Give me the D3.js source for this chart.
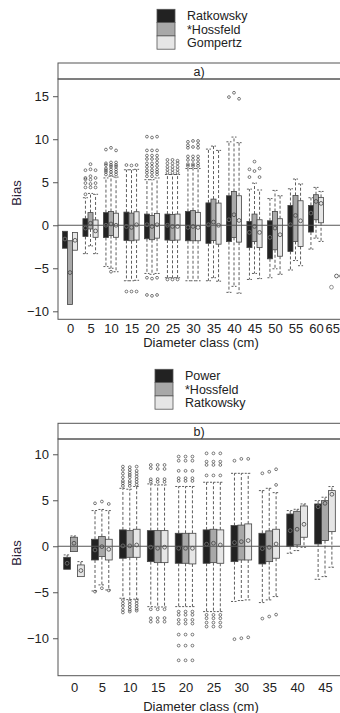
<!DOCTYPE html>
<html>
<head>
<meta charset="utf-8">
<script src="https://cdn.jsdelivr.net/npm/d3@7"></script>
<style>
  body { margin: 0; background: #fff; }
  svg { font-family: "Liberation Sans", Arial, sans-serif; }
</style>
</head>
<body>
<svg id="chart" width="340" height="713"></svg>
<script>
// ---- panel a data: [lowWhisker, q1, mid, q3, highWhisker] per diameter class
const classesA = ["0", "5", "10", "15", "20", "25", "30", "35", "40", "45", "50", "55", "60", "65"];
const seriesA = ["Ratkowsky", "*Hossfeld", "Gompertz"];
const ticksA = [-10, -5, 0, 5, 10, 15];

const ratkowskyA = [
  [-2.67, -2.67, -1.6, -0.7, -0.7], [-3.3, -1.3, -0.33, 0.76, 3.2], [-4.8, -1.43, 0.0, 1.47, 5.5],
  [-6.45, -1.76, -0.14, 1.53, 6.45], [-5.6, -1.57, 0.06, 1.3, 5.3], [-6.1, -1.72, 0.0, 1.3, 5.9],
  [-6.45, -1.8, -0.25, 1.6, 6.6], [-6.45, -2.1, 0.06, 2.6, 8.85], [-7.8, -1.9, 0.64, 3.43, 9.7],
  [-6.3, -2.6, -0.83, 0.45, 4.2], [-6.1, -3.9, -1.41, 0.52, 3.1], [-5.2, -3.04, 0.06, 2.3, 4.24],
  [-2.77, -0.79, 1.41, 2.3, 3.2], [-7.2, -7.2, -7.2, -7.2, -7.2]
];
const hossfeldA = [
  [-9.2, -9.2, -5.5, -1.8, -1.8], [-2.4, -0.43, 0.23, 1.47, 3.7], [-5.0, -1.2, 0.15, 1.6, 5.7],
  [-6.45, -1.8, -0.25, 1.41, 6.45], [-5.7, -1.68, -0.14, 1.14, 5.3], [-6.1, -1.75, -0.14, 1.25, 5.9],
  [-6.45, -1.8, -0.14, 1.7, 6.6], [-6.1, -1.76, 0.37, 3.04, 9.2], [-7.1, -1.41, 1.22, 3.93, 10.25],
  [-5.6, -1.88, -0.14, 1.3, 4.9], [-5.06, -2.85, -0.33, 1.6, 4.05], [-4.1, -1.88, 1.14, 3.47, 5.37],
  [-1.5, 0.64, 2.77, 3.55, 4.4], [-5.9, -5.9, -5.9, -5.9, -5.9]
];
const gompertzA = [
  [-2.9, -2.9, -1.75, -0.85, -0.85], [-3.3, -1.4, -0.66, 0.62, 3.6], [-5.4, -1.4, 0.0, 1.4, 5.6],
  [-6.4, -1.72, 0.06, 1.57, 6.5], [-5.6, -1.5, 0.06, 1.38, 5.5], [-6.1, -1.72, -0.14, 1.3, 5.9],
  [-6.45, -1.8, -0.25, 1.5, 6.6], [-6.5, -2.2, 0.0, 2.58, 8.7], [-7.9, -1.96, 0.56, 3.43, 9.6],
  [-6.2, -2.6, -0.83, 0.64, 4.1], [-5.7, -3.6, -1.1, 0.76, 3.43], [-4.7, -2.46, 0.52, 2.85, 4.8],
  [-1.88, 0.29, 2.54, 3.24, 3.93], [-5.9, -5.9, -5.9, -5.9, -5.9]
];
const ratkowskyOutA = [
  [], [3.6, 4.4, 4.9, 5.35, 5.5, 6.4], [5.9, 6.2, 6.4, 6.6, 7.0, 7.2, 8.8], [7.0, -7.7],
  [5.7, 6.1, 6.4, 6.8, 7.2, 7.7, 8.1, 8.7, 10.3, -6.1, -8.1], [6.1, 6.45, 6.8, 7.2, 7.6, -6.3],
  [6.9, 7.1, 7.6, 8.0, 9.0, 9.3, 9.7], [], [14.9], [5.6, 6.5], [], [], [], []
];
const hossfeldOutA = [
  [], [4.4, 4.8, 5.3, 5.7, 6.5, 7.1], [5.9, 6.2, 6.5, 6.8, 7.0, 7.3, 9.0, -5.4], [6.95, -7.7],
  [5.7, 6.1, 6.4, 6.8, 7.2, 7.7, 8.1, 8.7, 10.2, -6.2, -8.2], [6.1, 6.45, 6.8, 7.2, 7.6, -6.3],
  [6.9, 7.1, 7.6, 8.0, 9.1, 9.8], [], [15.4], [6.3, 7.4], [], [], [], []
];
const gompertzOutA = [
  [], [4.4, 4.9, 5.5, 6.4], [5.9, 6.2, 6.5, 6.8, 7.0, 7.3, 8.7], [7.0, -7.7],
  [5.9, 6.2, 6.5, 6.9, 7.3, 7.7, 8.1, 8.7, 10.3, -6.1, -8.1], [6.1, 6.45, 6.8, 7.2, 7.5, -6.3],
  [6.9, 7.2, 7.6, 8.0, 9.0, 9.4, 9.8], [], [14.7], [5.6, 6.6], [], [], [], []
];

// ---- panel b data
const classesB = ["0", "5", "10", "15", "20", "25", "30", "35", "40", "45"];
const seriesB = ["Power", "*Hossfeld", "Ratkowsky"];
const ticksB = [-10, -5, 0, 5, 10];

const powerB = [
  [-2.5, -2.5, -1.85, -1.2, -0.94], [-4.86, -1.49, -0.4, 0.76, 3.88], [-5.65, -1.3, 0.04, 1.78, 6.3],
  [-6.56, -1.67, -0.1, 1.7, 6.78], [-6.56, -1.85, -0.22, 1.41, 6.5], [-7.1, -1.85, 0.22, 1.78, 6.96],
  [-6.0, -1.67, 0.4, 2.25, 7.93], [-6.12, -1.92, -0.25, 1.41, 6.05], [-0.76, -0.04, 1.7, 3.51, 3.88],
  [-3.59, 0.25, 4.3, 4.6, 4.96]
];
const hossfeldB = [
  [-0.58, -0.58, 0.33, 0.98, 1.12], [-4.2, -1.12, -0.04, 1.05, 4.0], [-5.8, -1.2, 0.04, 1.7, 6.2],
  [-6.6, -1.78, -0.22, 1.7, 6.67], [-6.56, -1.85, -0.22, 1.41, 6.5], [-7.1, -1.78, 0.33, 1.85, 6.96],
  [-5.9, -1.49, 0.5, 2.3, 7.93], [-5.83, -1.67, -0.11, 1.67, 6.3], [-0.47, 0.14, 1.85, 3.8, 4.02],
  [-3.3, 0.62, 4.67, 4.96, 5.33]
];
const ratkowskyB = [
  [-3.3, -3.3, -2.64, -2.03, -1.67], [-4.75, -1.49, -0.33, 0.76, 3.88], [-5.75, -1.2, 0.14, 1.85, 6.5],
  [-6.6, -1.78, -0.1, 1.7, 6.67], [-6.56, -1.92, -0.22, 1.41, 6.5], [-7.1, -1.85, 0.14, 1.78, 6.96],
  [-5.83, -1.49, 0.62, 2.43, 7.93], [-5.47, -1.3, 0.25, 1.85, 5.83], [-0.11, 0.98, 2.39, 4.38, 4.6],
  [-2.28, 1.59, 5.65, 6.05, 6.49]
];
const powerOutB = [
  [], [4.67, -4.93], [6.56, 6.85, 7.1, 7.5, 7.9, 8.3, 8.66, -5.85, -6.2, -6.5, -6.9, -7.2],
  [7.03, 7.28, 8.48, 8.84, -6.85, -7.83, -8.2],
  [7.1, 7.4, 8.2, 9.3, 9.75, -7.1, -7.45, -8.0, -8.4, -9.6, -10.8, -12.4],
  [7.7, 8.84, 9.2, 10.1, -7.46, -7.83, -8.3, -8.73], [9.3, -10.1], [7.93, -7.86], [], []
];
const hossfeldOutB = [
  [], [4.86, -4.56], [6.56, 6.85, 7.1, 7.5, 7.75, 8.0, 8.3, 8.6, -6.0, -6.3, -6.6, -6.9, -7.1],
  [7.0, 7.3, 8.4, 8.84, -6.85, -7.8, -8.2],
  [7.1, 7.4, 8.2, 9.3, 9.75, -7.1, -7.45, -8.0, -8.4, -9.6, -10.8, -12.4],
  [7.7, 8.84, 9.2, 10.1, -7.46, -7.83, -8.3, -8.73], [9.5, -10.0], [8.1, -7.64], [], []
];
const ratkowskyOutB = [
  [], [4.6, -4.8], [6.7, 7.0, 7.3, 7.6, 7.9, 8.2, 8.66, -5.9, -6.2, -6.5, -6.8, -7.0],
  [7.0, 7.3, 8.4, 8.84, -6.85, -7.8, -8.2],
  [7.1, 7.4, 8.2, 9.3, 9.75, -7.1, -7.45, -8.0, -8.4, -9.6, -10.8, -12.4],
  [7.7, 8.84, 9.2, 10.1, -7.46, -7.83, -8.3, -8.73], [9.5, -9.9], [6.67, 8.37, -7.43], [], []
];

const fills = ["#222222", "#a8a8a8", "#e6e6e6"];
const svg = d3.select("#chart");

function drawPanel(o) {
  const left = 58, right = 341;
  const x = d3.scalePoint().domain(o.classes).range(o.xRange);
  const step = x.step();
  const sub = d3.scaleBand().domain(o.series).range([-0.37 * step, 0.37 * step]);
  const bw = sub.bandwidth();
  const y = d3.scaleLinear().domain(o.yDomain).range([o.bottom, o.top]);
  const g = svg.append("g");

  // legend
  const lg = g.append("g");
  o.series.forEach((s, i) => {
    lg.append("rect")
      .attr("x", o.legX).attr("y", o.legY + i * 13.3)
      .attr("width", 18).attr("height", 13.3)
      .attr("fill", fills[i]).attr("stroke", "#555").attr("stroke-width", 0.8);
    lg.append("text")
      .attr("x", o.legX + 30).attr("y", o.legY + i * 13.3 + 11)
      .attr("font-size", 12.5).attr("fill", "#222")
      .text(s);
  });

  // strip
  g.append("rect")
    .attr("x", left).attr("y", o.stripTop)
    .attr("width", right - left).attr("height", o.top - o.stripTop)
    .attr("fill", "#fff").attr("stroke", "#555");
  g.append("text")
    .attr("x", 199).attr("y", o.top - 3.5)
    .attr("text-anchor", "middle").attr("font-size", 12.5).attr("fill", "#222")
    .text(o.strip);

  // boxes
  o.stats.forEach((rows, i) => {
    const s = o.series[i];
    rows.forEach((d, j) => {
      const [lo, q1, mid, q3, hi] = d;
      const x0 = x(o.classes[j]) + sub(s);
      const cx = x0 + bw / 2;
      const bg = g.append("g");
      const dash = "3,2";
      if (hi > q3) {
        bg.append("line").attr("x1", cx).attr("x2", cx).attr("y1", y(q3)).attr("y2", y(hi))
          .attr("stroke", "#333").attr("stroke-width", 0.8).attr("stroke-dasharray", dash);
        bg.append("line").attr("x1", x0).attr("x2", x0 + bw).attr("y1", y(hi)).attr("y2", y(hi))
          .attr("stroke", "#333").attr("stroke-width", 0.8).attr("stroke-dasharray", "2,1.5");
      }
      if (lo < q1) {
        bg.append("line").attr("x1", cx).attr("x2", cx).attr("y1", y(q1)).attr("y2", y(lo))
          .attr("stroke", "#333").attr("stroke-width", 0.8).attr("stroke-dasharray", dash);
        bg.append("line").attr("x1", x0).attr("x2", x0 + bw).attr("y1", y(lo)).attr("y2", y(lo))
          .attr("stroke", "#333").attr("stroke-width", 0.8).attr("stroke-dasharray", "2,1.5");
      }
      bg.append("rect")
        .attr("x", x0).attr("y", y(q3))
        .attr("width", bw).attr("height", Math.max(0, y(q1) - y(q3)))
        .attr("fill", fills[i]).attr("stroke", "#444").attr("stroke-width", 0.8);
      bg.append("circle").attr("cx", cx).attr("cy", y(mid)).attr("r", 1.9)
        .attr("fill", "none").attr("stroke", i === 0 ? "#777" : "#444").attr("stroke-width", 0.8);
      bg.selectAll("circle.out").data(o.outliers[i][j]).enter().append("circle")
        .attr("class", "out")
        .attr("cx", cx).attr("cy", v => y(v)).attr("r", 1.4)
        .attr("fill", "none").attr("stroke", "#444").attr("stroke-width", 0.7);
    });
  });

  // zero reference line
  g.append("line")
    .attr("x1", left).attr("x2", right).attr("y1", y(0)).attr("y2", y(0))
    .attr("stroke", "#555").attr("stroke-width", 1);

  // frame
  g.append("rect")
    .attr("x", left).attr("y", o.top)
    .attr("width", right - left).attr("height", o.bottom - o.top)
    .attr("fill", "none").attr("stroke", "#555");

  // axes
  const ya = g.append("g")
    .attr("transform", "translate(" + left + ",0)")
    .call(d3.axisLeft(y).tickValues(o.ticks).tickSize(5).tickPadding(4));
  ya.select(".domain").remove();
  ya.selectAll("line").attr("stroke", "#555");
  ya.selectAll("text").attr("font-size", 13).attr("fill", "#222")
    .attr("font-family", "Liberation Sans, Arial, sans-serif");

  const xa = g.append("g")
    .attr("transform", "translate(0," + o.bottom + ")")
    .call(d3.axisBottom(x).tickSize(0).tickPadding(o.xPad));
  xa.select(".domain").remove();
  xa.selectAll("text").attr("font-size", 13).attr("fill", "#222")
    .attr("font-family", "Liberation Sans, Arial, sans-serif");
  // keep the last label inside the page
  xa.selectAll(".tick").each(function (c) {
    const t = d3.select(this).select("text");
    const b = t.node().getBBox();
    const over = x(c) + b.x + b.width - 339.5;
    if (over > 0) t.attr("dx", -over);
  });

  g.append("text")
    .attr("x", 201).attr("y", o.xTitleY)
    .attr("text-anchor", "middle").attr("font-size", 13).attr("fill", "#222")
    .text("Diameter class (cm)");
  g.append("text")
    .attr("transform", "translate(21," + o.yTitleY + ")rotate(-90)")
    .attr("text-anchor", "middle").attr("font-size", 13).attr("fill", "#2a2238")
    .text("Bias");
}

drawPanel({
  classes: classesA, series: seriesA, ticks: ticksA,
  stats: [ratkowskyA, hossfeldA, gompertzA],
  outliers: [ratkowskyOutA, hossfeldOutA, gompertzOutA],
  xRange: [70, 336.5], yDomain: [-10.93, 17.0], top: 79, bottom: 319.3, stripTop: 63,
  legX: 157, legY: 9.3, strip: "a)", xPad: 4, xTitleY: 346.5, yTitleY: 193
});

drawPanel({
  classes: classesB, series: seriesB, ticks: ticksB,
  stats: [powerB, hossfeldB, ratkowskyB],
  outliers: [powerOutB, hossfeldOutB, ratkowskyOutB],
  xRange: [74, 325], yDomain: [-14.07, 11.66], top: 439, bottom: 675.7, stripTop: 423.3,
  legX: 155, legY: 369.3, strip: "b)", xPad: 7, xTitleY: 711, yTitleY: 553
});
</script>
</body>
</html>
